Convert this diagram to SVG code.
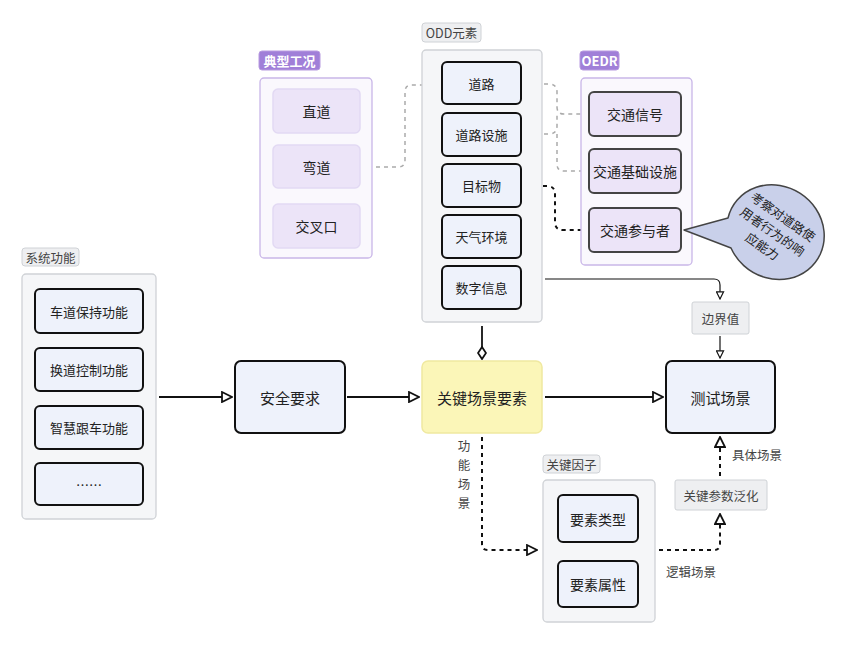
<svg xmlns="http://www.w3.org/2000/svg" width="865" height="645" viewBox="0 0 865 645">
<defs>
<style>
text{font-family:"Noto Sans CJK SC","Noto Sans",sans-serif;text-anchor:middle;dominant-baseline:central;fill:#222}
.plab{fill:#a07fd8;stroke:#b89be0}
.plab+text{fill:#fff;font-weight:bold;font-size:13px}
.pcon{fill:#faf8fd;stroke:#c9b6e8;stroke-width:1.3}
.pitem{fill:#ece4f8;stroke:#e2d9f3;stroke-width:1.5}
.oitem{fill:#ece4f8;stroke:#444;stroke-width:2}
.gcon{fill:#f5f6f8;stroke:#cfd2d6;stroke-width:1.3}
.glab{fill:#eeeff1;stroke:#cfd2d6}
.bitem{fill:#eef2fb;stroke:#111;stroke-width:2}
.t13{font-size:13px}.t14{font-size:14px}.t15{font-size:15px}.lab{font-size:12.5px;fill:#444}
.c{fill:none;stroke:#111;stroke-width:1.8}
.cd{fill:none;stroke:#111;stroke-width:2;stroke-dasharray:4 4}
.cg{fill:none;stroke:#aaa;stroke-width:1.5;stroke-dasharray:4 4}
</style>
<marker id="tri" viewBox="0 0 12 12" refX="11" refY="6" markerWidth="12" markerHeight="12" markerUnits="userSpaceOnUse" orient="auto"><path d="M1,1 L11,6 L1,11 Z" fill="#fff" stroke="#111" stroke-width="1.8"/></marker>
<marker id="tris" viewBox="0 0 10 10" refX="9" refY="5" markerWidth="9" markerHeight="9" markerUnits="userSpaceOnUse" orient="auto"><path d="M1,1 L9,5 L1,9 Z" fill="#fff" stroke="#111" stroke-width="1.3"/></marker>
<marker id="dia" viewBox="0 0 14 10" refX="13" refY="5" markerWidth="14" markerHeight="10" markerUnits="userSpaceOnUse" orient="auto"><path d="M1,5 L7,1 L13,5 L7,9 Z" fill="#fff" stroke="#111" stroke-width="1.8"/></marker>
</defs>
<rect width="865" height="645" fill="#fff"/>

<g id="connectors">
<path class="cg" d="M376,167 H398 Q405,167 405,160 V92 Q405,85 412,85 H438"/>
<path class="cg" d="M528,84 H549 Q557,84 557,92 V107 Q557,114 564,114 H588"/>
<path class="cg" d="M528,134 H549 Q557,134 557,126 V114"/>
<path class="cg" d="M557,134 V164 Q557,171 564,171 H588"/>
<path class="cd" d="M527,186 H547 Q555,186 555,194 V222 Q555,230 563,230 H588"/>
<path class="c" d="M159,397 H232" marker-end="url(#tri)"/>
<path class="c" d="M347,397 H419" marker-end="url(#tri)"/>
<path class="c" d="M545,397 H663" marker-end="url(#tri)"/>
<path class="c" d="M482,326 V359" marker-end="url(#dia)"/>
<path class="c" style="stroke-width:1.2" d="M545,279 H714 Q720,279 720,285 V299" marker-end="url(#tris)"/>
<path class="c" style="stroke-width:1.2" d="M720,336 V358" marker-end="url(#tris)"/>
<path class="cd" d="M482,437 V544 Q482,550 488,550 H537" marker-end="url(#tri)"/>
<path class="cd" d="M659,550 H714 Q720,550 720,544 V514" marker-end="url(#tri)"/>
<path class="cd" d="M720,476 V437" marker-end="url(#tri)"/>
<text class="lab" x="464" y="445">功</text><text class="lab" x="464" y="464">能</text><text class="lab" x="464" y="483">场</text><text class="lab" x="464" y="502">景</text>
<text class="lab" x="691" y="571">逻辑场景</text>
<text class="lab" x="757" y="454">具体场景</text>
</g>

<g id="typical">
<rect class="plab" x="259" y="51" width="61" height="19" rx="3"/><text x="289.5" y="60.5">典型工况</text>
<rect class="pcon" x="260" y="78" width="112" height="180" rx="4"/>
<rect class="pitem" x="273" y="89" width="87" height="44" rx="5"/><text class="t14" x="316.5" y="111">直道</text>
<rect class="pitem" x="273" y="145" width="87" height="43" rx="5"/><text class="t14" x="316.5" y="166.5">弯道</text>
<rect class="pitem" x="273" y="204" width="87" height="44" rx="5"/><text class="t14" x="316.5" y="226">交叉口</text>
</g>

<g id="odd">
<rect class="glab" x="422" y="23" width="59" height="19" rx="3"/><text class="lab" x="451.5" y="32.5">ODD元素</text>
<rect class="gcon" x="422" y="50" width="120" height="272" rx="4"/>
<rect class="bitem" x="442" y="62" width="79" height="42" rx="5"/><text class="t13" x="481.5" y="83">道路</text>
<rect class="bitem" x="442" y="113" width="79" height="43" rx="5"/><text class="t13" x="481.5" y="134.5">道路设施</text>
<rect class="bitem" x="442" y="164" width="79" height="43" rx="5"/><text class="t13" x="481.5" y="185.5">目标物</text>
<rect class="bitem" x="442" y="215" width="79" height="43" rx="5"/><text class="t13" x="481.5" y="236.5">天气环境</text>
<rect class="bitem" x="442" y="266" width="79" height="43" rx="5"/><text class="t13" x="481.5" y="287.5">数字信息</text>
</g>

<g id="oedr">
<rect class="plab" x="580" y="51" width="39" height="19" rx="3"/><text x="599.5" y="60.5">OEDR</text>
<rect class="pcon" x="581" y="78" width="111" height="187" rx="4"/>
<rect class="oitem" x="589" y="92" width="92" height="44" rx="5"/><text class="t14" x="635" y="114">交通信号</text>
<rect class="oitem" x="589" y="149" width="92" height="44" rx="5"/><text class="t14" x="635" y="171">交通基础设施</text>
<rect class="oitem" x="589" y="208" width="92" height="44" rx="5"/><text class="t14" x="635" y="230">交通参与者</text>
</g>

<g id="bubble">
<path d="M684,230 L728,218 A50,46 35 1 1 731,248 Z" fill="#c9d0ea" stroke="#444" stroke-width="1.5" stroke-linejoin="round"/>
<g transform="rotate(35 773 231)" font-size="12.5">
<text x="773" y="213">考察对道路使</text><text x="773" y="231">用者行为的响</text><text x="773" y="249">应能力</text>
</g>
</g>

<g id="system">
<rect class="glab" x="22" y="248" width="57" height="18" rx="3"/><text class="lab" x="50.5" y="257">系统功能</text>
<rect class="gcon" x="22" y="274" width="134" height="245" rx="4"/>
<rect class="bitem" x="35" y="289" width="108" height="44" rx="5"/><text class="t13" x="89" y="311">车道保持功能</text>
<rect class="bitem" x="35" y="348" width="108" height="43" rx="5"/><text class="t13" x="89" y="369.5">换道控制功能</text>
<rect class="bitem" x="35" y="406" width="108" height="43" rx="5"/><text class="t13" x="89" y="427.5">智慧跟车功能</text>
<rect class="bitem" x="35" y="463" width="108" height="42" rx="5"/><text class="t13" x="89" y="484">……</text>
</g>

<g id="safety"><rect class="bitem" x="235" y="361" width="110" height="72" rx="6"/><text class="t15" x="290" y="397">安全要求</text></g>
<g id="key"><rect x="422" y="361" width="120" height="72" rx="6" fill="#fbf6b8" stroke="#f0e9a0" stroke-width="1.5"/><text class="t15" x="482" y="397">关键场景要素</text></g>
<g id="test"><rect class="bitem" x="666" y="361" width="109" height="72" rx="6"/><text class="t15" x="720.5" y="397">测试场景</text></g>
<g id="boundary"><rect class="glab" x="692" y="302" width="57" height="32" rx="2" fill="#f7f7f8"/><text class="lab" x="720.5" y="318">边界值</text></g>
<g id="param"><rect class="glab" x="675" y="480" width="92" height="30" rx="2"/><text class="lab" x="721" y="495">关键参数泛化</text></g>
<g id="factors">
<rect class="glab" x="543" y="455" width="57" height="18" rx="3"/><text class="lab" x="571.5" y="464">关键因子</text>
<rect class="gcon" x="543" y="480" width="112" height="142" rx="4"/>
<rect class="bitem" x="558" y="495" width="80" height="47" rx="5"/><text class="t14" x="598" y="518.5">要素类型</text>
<rect class="bitem" x="558" y="561" width="80" height="46" rx="5"/><text class="t14" x="598" y="584">要素属性</text>
</g>
</svg>
